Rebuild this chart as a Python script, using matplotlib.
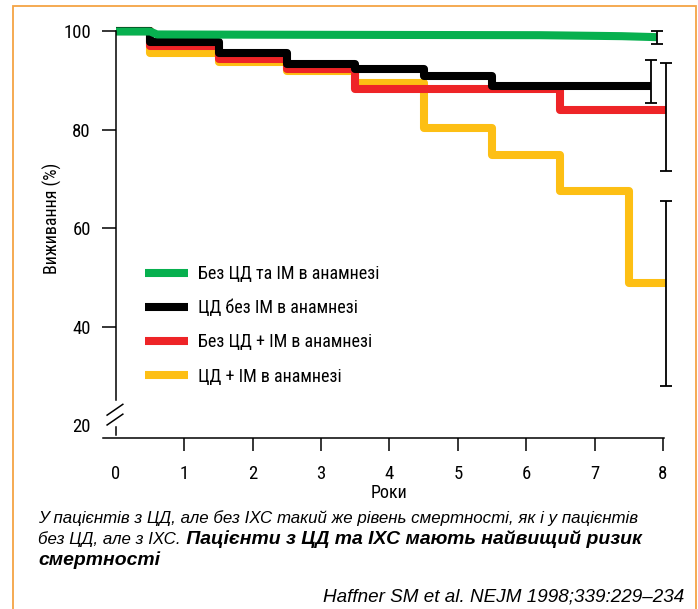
import matplotlib
matplotlib.use("Agg")
import matplotlib.pyplot as plt
from matplotlib import font_manager
from matplotlib.patches import Rectangle

# Kaplan-Meier style survival curves
years_steps = [0, 0.5, 1.5, 2.5, 3.5, 4.5, 5.5, 6.5, 7.5]
no_dm_mi_years = [0, 0.5, 0.6, 2.0, 4.0, 6.2, 7.4, 7.91]
no_dm_mi = [100, 100, 99.4, 99.35, 99.3, 99.25, 99.05, 98.85]
dm_no_mi = [100, 97.9, 95.6, 93.5, 92.3, 91.0, 89.0, 89.0, 89.0]
no_dm_plus_mi = [100, 97.1, 94.5, 92.4, 88.3, 88.3, 88.3, 84.1, 84.1]
dm_plus_mi = [100, 95.6, 93.9, 92.0, 89.5, 80.5, 74.9, 67.7, 48.9]
end_years = [7.91, 7.82, 8.04, 8.04]

# confidence intervals at the end of follow-up
ci_x = [7.91, 7.82, 8.04, 8.04]
ci_mid = [98.85, 89.0, 84.1, 48.9]
ci_lo = [97.5, 85.5, 71.7, 28.0]
ci_hi = [100.1, 94.2, 93.6, 65.6]

labels = ["Без ЦД та ІМ в анамнезі", "ЦД без ІМ в анамнезі",
          "Без ЦД + ІМ в анамнезі", "ЦД + ІМ в анамнезі"]
colors = ["#07B04F", "#000000", "#EE2427", "#FDBF14"]
x_ticks = [0, 1, 2, 3, 4, 5, 6, 7, 8]
y_ticks = [20, 40, 60, 80, 100]

names = {f.name for f in font_manager.fontManager.ttflist}
narrow = next((n for n in ["Liberation Sans Narrow", "Roboto Condensed",
                           "Open Sans Condensed", "Liberation Sans"] if n in names),
              "DejaVu Sans")
plt.rcParams["font.family"] = [narrow, "DejaVu Sans"]
plt.rcParams["font.size"] = 13

W, H = 698, 609
fig = plt.figure(figsize=(W / 100, H / 100), dpi=100)
ax = fig.add_axes([103 / W, 1 - 438 / H, 561 / W, 420 / H])
ax.set_xlim(-0.19, 8.015)
ax.set_ylim(17.46, 102.74)

lw = 5.8
series = [dm_plus_mi, no_dm_plus_mi, dm_no_mi]
order = [3, 2, 1]
handles = {}
for idx, vals in zip(order, series):
    xs = years_steps + [end_years[idx]]
    ys = vals + [vals[-1]]
    ln, = ax.step(xs, ys, where="post", color=colors[idx], lw=lw,
                  solid_joinstyle="round", solid_capstyle="butt", clip_on=False)
    handles[idx] = ln
ln, = ax.plot(no_dm_mi_years, no_dm_mi, color=colors[0], lw=lw,
              solid_joinstyle="round", solid_capstyle="butt", clip_on=False)
handles[0] = ln

lo_err = [m - l for m, l in zip(ci_mid, ci_lo)]
hi_err = [h - m for m, h in zip(ci_mid, ci_hi)]
ax.errorbar(ci_x, ci_mid, yerr=[lo_err, hi_err], fmt="none", ecolor="black",
            elinewidth=1.3, capsize=4.5, capthick=1.3, clip_on=False, zorder=5)

# axes styling with broken y axis
for s in ["top", "right"]:
    ax.spines[s].set_visible(False)
ax.spines["left"].set_position(("data", 0))
ax.spines["left"].set_bounds(25.2, 100)
ax.spines["left"].set_linewidth(1.1)
ax.spines["bottom"].set_linewidth(1.1)
ax.plot([0, 0], [18.0, 19.7], color="black", lw=1.1, clip_on=False)
for y0 in [20.1, 22.1]:
    ax.plot([-0.13, 0.10], [y0, y0 + 2.2], color="black", lw=1.1, clip_on=False)

ax.set_xticks(x_ticks)
ax.set_yticks(y_ticks)
ax.tick_params(axis="x", direction="out", length=9.5, width=1.1, pad=10, labelsize=13.5)
ax.tick_params(axis="y", direction="out", length=10, width=1.1, pad=8, labelsize=13.5)
ax.xaxis.get_major_ticks()[0].tick1line.set_visible(False)
ax.yaxis.get_major_ticks()[0].tick1line.set_visible(False)

ax.set_ylabel("Виживання (%)", fontsize=13)
ax.yaxis.set_label_coords(-0.073, 0.524)
fig.text(389 / W, 1 - 493 / H, "Роки", ha="center", va="center", fontsize=13)

ax.legend([handles[i] for i in range(4)], labels, loc="upper left",
          bbox_to_anchor=(145 / W, 1 - 265 / H), bbox_transform=fig.transFigure,
          frameon=False, borderpad=0, borderaxespad=0, handlelength=2.4,
          handletextpad=0.55, labelspacing=0.9, fontsize=13)

# caption, sized to the widths seen in the picture
cap_font = ["Liberation Sans", "DejaVu Sans"]
renderer = fig.canvas.get_renderer()


def fit(txt, width_px):
    w = txt.get_window_extent(renderer).width
    txt.set_fontsize(txt.get_fontsize() * width_px / w)
    return txt.get_fontsize()


line1 = fig.text(38 / W, 1 - 523 / H,
                 "У пацієнтів з ЦД, але без ІХС такий же рівень смертності, як і у пацієнтів",
                 family=cap_font, style="italic", fontsize=10, va="baseline")
cap_size = fit(line1, 599)

reg = fig.text(38 / W, 1 - 544 / H, "без ЦД, але з ІХС.", family=cap_font,
               style="italic", fontsize=cap_size, va="baseline")
x_end = reg.get_window_extent(renderer).x1
bold = fig.text(x_end / W, 1 - 544 / H, " Пацієнти з ЦД та ІХС мають найвищий ризик",
                family=cap_font, style="italic", weight="bold", fontsize=10,
                va="baseline")
bold_size = fit(bold, 642 - x_end)
fig.text(38 / W, 1 - 565 / H, "смертності", family=cap_font, style="italic",
         weight="bold", fontsize=bold_size, va="baseline")
cite = fig.text(684 / W, 1 - 601 / H, "Haffner SM et al. NEJM 1998;339:229–234",
                family=cap_font, style="italic", fontsize=10, va="baseline", ha="right")
fit(cite, 684 - 321)

fig.patches.append(Rectangle((13 / W, -0.05), (696 - 13) / W, 0.05 + 1 - 6 / H,
                             transform=fig.transFigure, fill=False,
                             edgecolor="#F5A444", lw=1.3))

fig.savefig("out.png", dpi=100)
